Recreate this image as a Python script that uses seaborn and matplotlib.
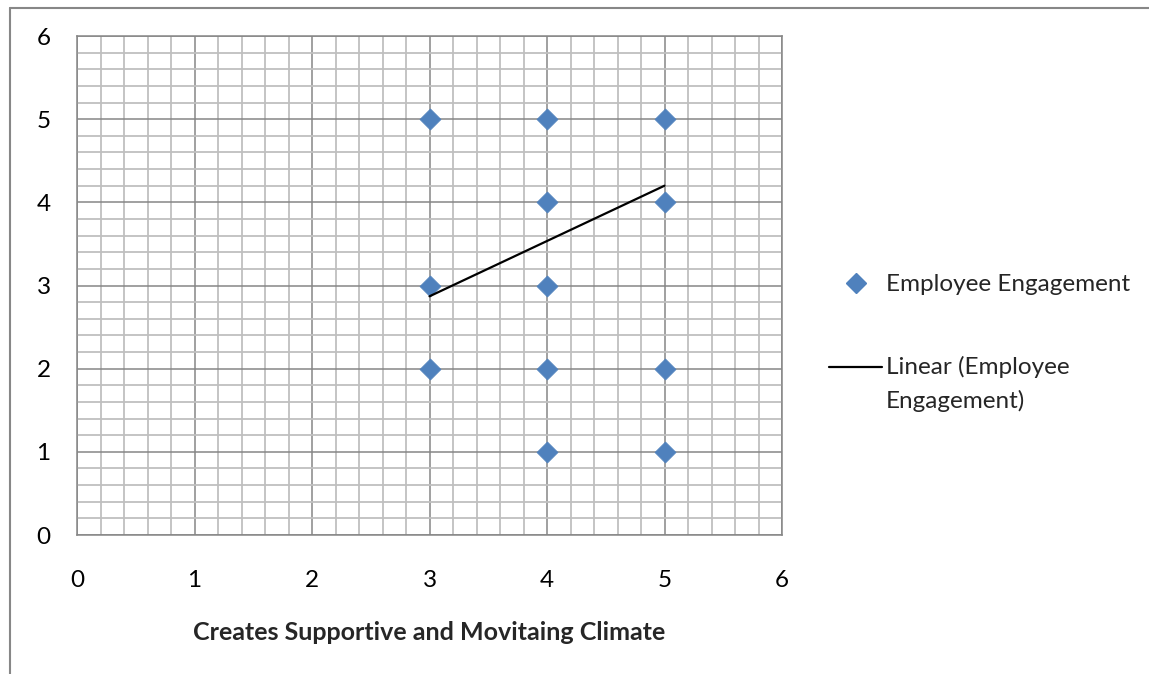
import matplotlib
matplotlib.use("Agg")
import matplotlib.pyplot as plt
import seaborn as sns
import pandas as pd
from matplotlib.ticker import MultipleLocator
from matplotlib.lines import Line2D

# ---- data ----
scatter_x = [3, 3, 3, 4, 4, 4, 4, 4, 5, 5, 5, 5]
scatter_y = [5, 3, 2, 5, 4, 3, 2, 1, 5, 4, 2, 1]
trend_x = [3, 5]
trend_y = [2.87, 4.20]
x_ticks = [0, 1, 2, 3, 4, 5, 6]
y_ticks = [0, 1, 2, 3, 4, 5, 6]
x_label = "Creates Supportive and Movitaing Climate"
series_label = "Employee Engagement"
trend_label = "Linear (Employee\nEngagement)"

sns.set_style("white")
plt.rcParams['font.family'] = ['Lato', 'DejaVu Sans']

FS = 17.5
fig = plt.figure(figsize=(11.49, 6.74), dpi=100)
ax = fig.add_axes([77/1149, 1-535/674, (782-77)/1149, (535-36)/674])

df = pd.DataFrame({"x": scatter_x, "y": scatter_y})
tdf = pd.DataFrame({"x": trend_x, "y": trend_y})

sns.scatterplot(data=df, x="x", y="y", marker="D", s=115, color="#4F81BD",
                edgecolor="#4F81BD", linewidth=0.5, ax=ax, zorder=4, legend=False)
sns.lineplot(data=tdf, x="x", y="y", color="black", linewidth=1.6, ax=ax,
             zorder=5, legend=False)

ax.set_xlim(0, 6)
ax.set_ylim(0, 6)
ax.set_xticks(x_ticks)
ax.set_yticks(y_ticks)
ax.xaxis.set_minor_locator(MultipleLocator(0.2))
ax.yaxis.set_minor_locator(MultipleLocator(0.2))
ax.grid(which='major', color='#868686', linewidth=1.1)
ax.grid(which='minor', color='#BFBFBF', linewidth=1.3)
ax.set_axisbelow(True)
ax.tick_params(which='major', direction='out', length=5, width=1.1, color='#868686',
               labelsize=FS, labelcolor='black')
ax.tick_params(axis='y', pad=14)
ax.tick_params(axis='x', pad=20)
ax.tick_params(which='minor', length=0)
for s in ax.spines.values():
    s.set_color('#868686')
    s.set_linewidth(1.1)

ax.set_xlabel(x_label, fontsize=18, fontweight='bold', labelpad=22)
ax.set_ylabel("")

handles = [
    Line2D([], [], marker='D', linestyle='none', color='#4F81BD', markersize=10),
    Line2D([], [], color='black', linewidth=1.6),
]
leg = fig.legend(handles, [series_label, trend_label], loc='center left',
                 bbox_to_anchor=(807/1149, 1-343/674), frameon=False, fontsize=FS,
                 handlelength=2.2, handletextpad=0.15, labelspacing=2.5)
for t in leg.get_texts():
    t.set_linespacing(1.64)
# align the trendline handle with the first line of its two-line label
trend_handle = leg.legend_handles[1]
trend_handle.set_ydata([v + 12.5 for v in trend_handle.get_ydata()])

# outer chart border (top and left visible)
fig.add_artist(Line2D([9.5/1149, 1], [1-7.5/674, 1-7.5/674], color='#878787',
                      linewidth=1.5, transform=fig.transFigure))
fig.add_artist(Line2D([9.5/1149, 9.5/1149], [0, 1-7.5/674], color='#878787',
                      linewidth=1.5, transform=fig.transFigure))

fig.savefig("out.png", dpi=100)
